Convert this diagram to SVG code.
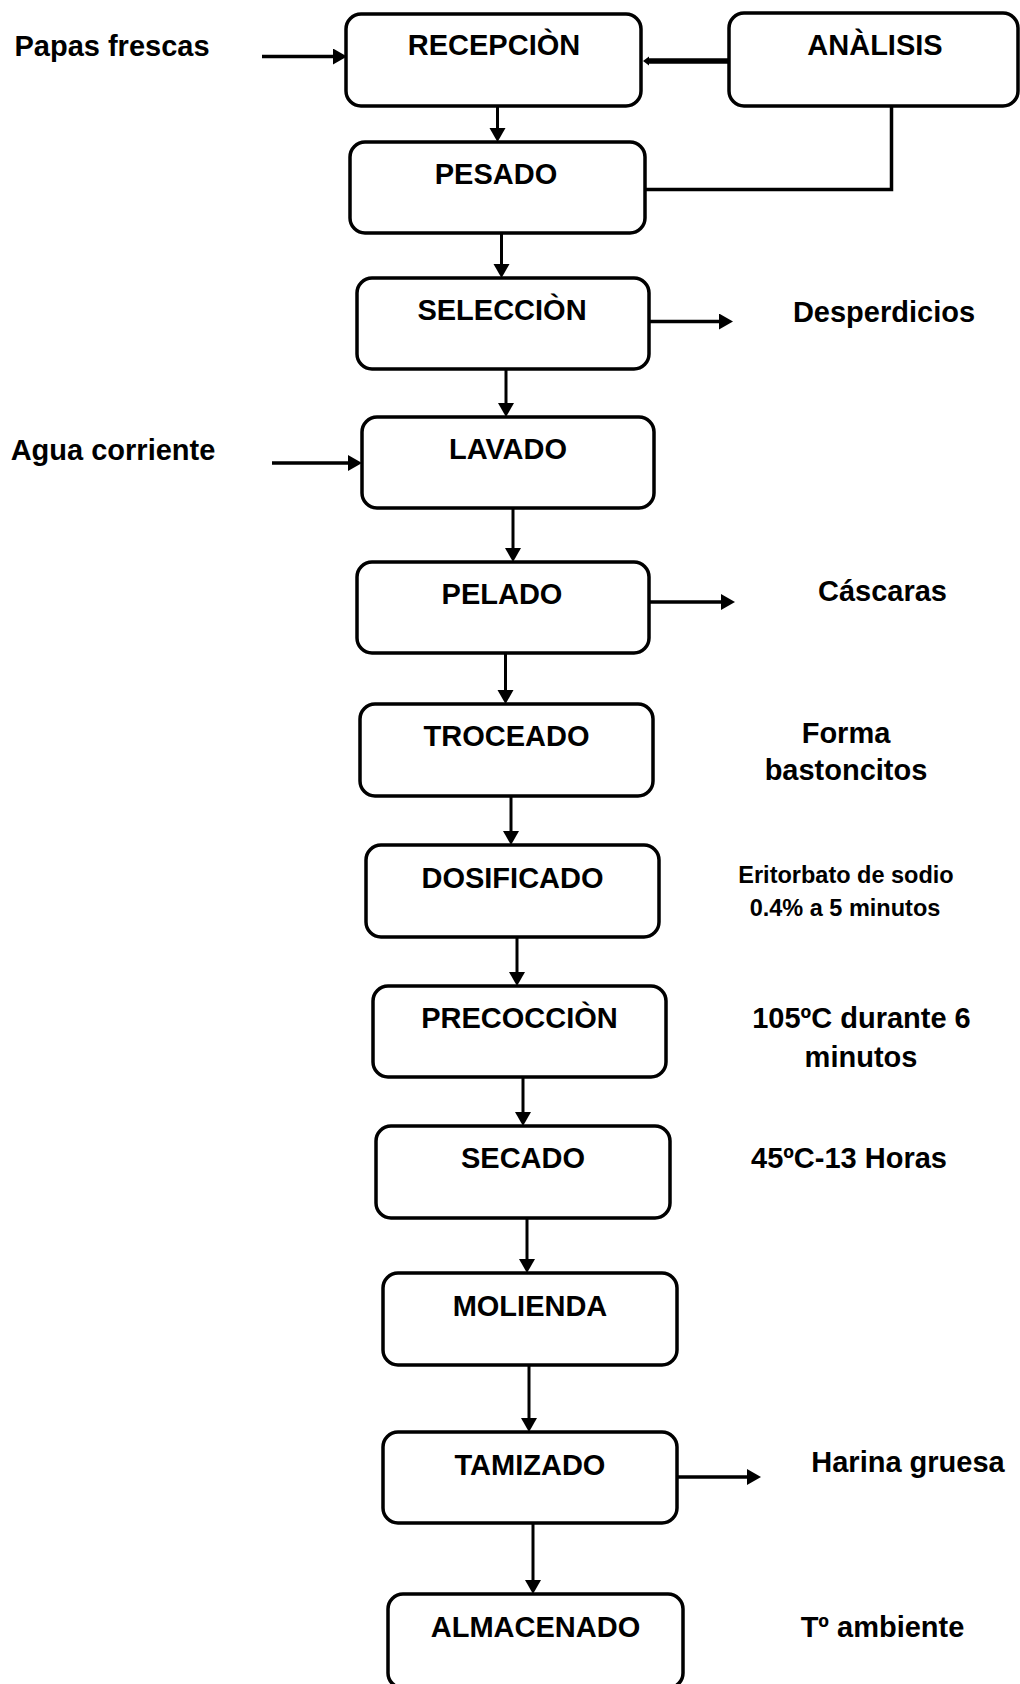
<svg xmlns="http://www.w3.org/2000/svg" width="1020" height="1684" viewBox="0 0 1020 1684">
<style>
.box{fill:#fff;stroke:#000;stroke-width:3.5}
.lbl{font-family:"Liberation Sans",Arial,sans-serif;font-weight:bold;font-size:29px;fill:#000;text-anchor:middle}
.sm{font-size:23.5px}
.ln{fill:none;stroke:#000;stroke-width:3}
.hz{stroke-width:3.5}
</style>
<defs>
<marker id="ah" markerUnits="userSpaceOnUse" markerWidth="16" markerHeight="17" refX="1" refY="8" orient="auto">
<path d="M0,0 L14,8 L0,16 z" fill="#000"/>
</marker>
<marker id="ahs" markerUnits="userSpaceOnUse" markerWidth="8" markerHeight="10" refX="1" refY="4.5" orient="auto">
<path d="M0,0 L6,4.5 L0,9 z" fill="#000"/>
</marker>
</defs>
<rect width="1020" height="1684" fill="#fff"/>
<g id="connectors">
<path class="ln hz" d="M262,56.5 H334" marker-end="url(#ah)"/>
<path class="ln" d="M729,61 H648" style="stroke-width:5.5" marker-end="url(#ahs)"/>
<path class="ln" d="M891.5,106 V189.5 H645" style="stroke-width:3.5"/>
<path class="ln hz" d="M272,463 H349" marker-end="url(#ah)"/>
<path class="ln hz" d="M649,321.5 H720" marker-end="url(#ah)"/>
<path class="ln hz" d="M649,602 H722" marker-end="url(#ah)"/>
<path class="ln hz" d="M677,1477 H748" marker-end="url(#ah)"/>
<path class="ln" d="M497.5,106 V129" marker-end="url(#ah)"/>
<path class="ln" d="M501.5,233 V265" marker-end="url(#ah)"/>
<path class="ln" d="M506,369 V404" marker-end="url(#ah)"/>
<path class="ln" d="M513,508 V549" marker-end="url(#ah)"/>
<path class="ln" d="M505.5,653 V691" marker-end="url(#ah)"/>
<path class="ln" d="M511,796 V832" marker-end="url(#ah)"/>
<path class="ln" d="M517,937 V973" marker-end="url(#ah)"/>
<path class="ln" d="M523,1077 V1113" marker-end="url(#ah)"/>
<path class="ln" d="M527,1218 V1260" marker-end="url(#ah)"/>
<path class="ln" d="M529,1365 V1419" marker-end="url(#ah)"/>
<path class="ln" d="M533,1523 V1581" marker-end="url(#ah)"/>
</g>
<g id="n-recepcion"><rect class="box" x="346" y="14" width="295" height="92" rx="15"/><text class="lbl" x="494" y="55">RECEPCIÒN</text></g>
<g id="n-analisis"><rect class="box" x="729" y="13" width="289" height="93" rx="15"/><text class="lbl" x="875" y="55">ANÀLISIS</text></g>
<g id="n-pesado"><rect class="box" x="350" y="142" width="295" height="91" rx="15"/><text class="lbl" x="496" y="184">PESADO</text></g>
<g id="n-seleccion"><rect class="box" x="357" y="278" width="292" height="91" rx="15"/><text class="lbl" x="502" y="320">SELECCIÒN</text></g>
<g id="n-lavado"><rect class="box" x="362" y="417" width="292" height="91" rx="15"/><text class="lbl" x="508" y="459">LAVADO</text></g>
<g id="n-pelado"><rect class="box" x="357" y="562" width="292" height="91" rx="15"/><text class="lbl" x="502" y="604">PELADO</text></g>
<g id="n-troceado"><rect class="box" x="360" y="704" width="293" height="92" rx="15"/><text class="lbl" x="506.5" y="746">TROCEADO</text></g>
<g id="n-dosificado"><rect class="box" x="366" y="845" width="293" height="92" rx="15"/><text class="lbl" x="512.5" y="888">DOSIFICADO</text></g>
<g id="n-precoccion"><rect class="box" x="373" y="986" width="293" height="91" rx="15"/><text class="lbl" x="519.5" y="1028">PRECOCCIÒN</text></g>
<g id="n-secado"><rect class="box" x="376" y="1126" width="294" height="92" rx="15"/><text class="lbl" x="523" y="1168">SECADO</text></g>
<g id="n-molienda"><rect class="box" x="383" y="1273" width="294" height="92" rx="15"/><text class="lbl" x="530" y="1316">MOLIENDA</text></g>
<g id="n-tamizado"><rect class="box" x="383" y="1432" width="294" height="91" rx="15"/><text class="lbl" x="530" y="1475">TAMIZADO</text></g>
<g id="n-almacenado"><rect class="box" x="388" y="1594" width="295" height="94" rx="15"/><text class="lbl" x="535.5" y="1637">ALMACENADO</text></g>
<g id="t-papas"><text class="lbl" x="112" y="56">Papas frescas</text></g>
<g id="t-agua"><text class="lbl" x="113" y="460">Agua corriente</text></g>
<g id="t-desperdicios"><text class="lbl" x="884" y="322">Desperdicios</text></g>
<g id="t-cascaras"><text class="lbl" x="882.5" y="601">Cáscaras</text></g>
<g id="t-forma"><text class="lbl" x="846" y="743">Forma</text><text class="lbl" x="846" y="780">bastoncitos</text></g>
<g id="t-eritorbato"><text class="lbl sm" x="846" y="883">Eritorbato de sodio</text><text class="lbl sm" x="845" y="916">0.4% a 5 minutos</text></g>
<g id="t-105"><text class="lbl" x="861.5" y="1028">105ºC durante 6</text><text class="lbl" x="861" y="1067">minutos</text></g>
<g id="t-45"><text class="lbl" x="849" y="1168">45ºC-13 Horas</text></g>
<g id="t-harina"><text class="lbl" x="908" y="1472">Harina gruesa</text></g>
<g id="t-ambiente"><text class="lbl" x="882.5" y="1637">Tº ambiente</text></g>
</svg>
